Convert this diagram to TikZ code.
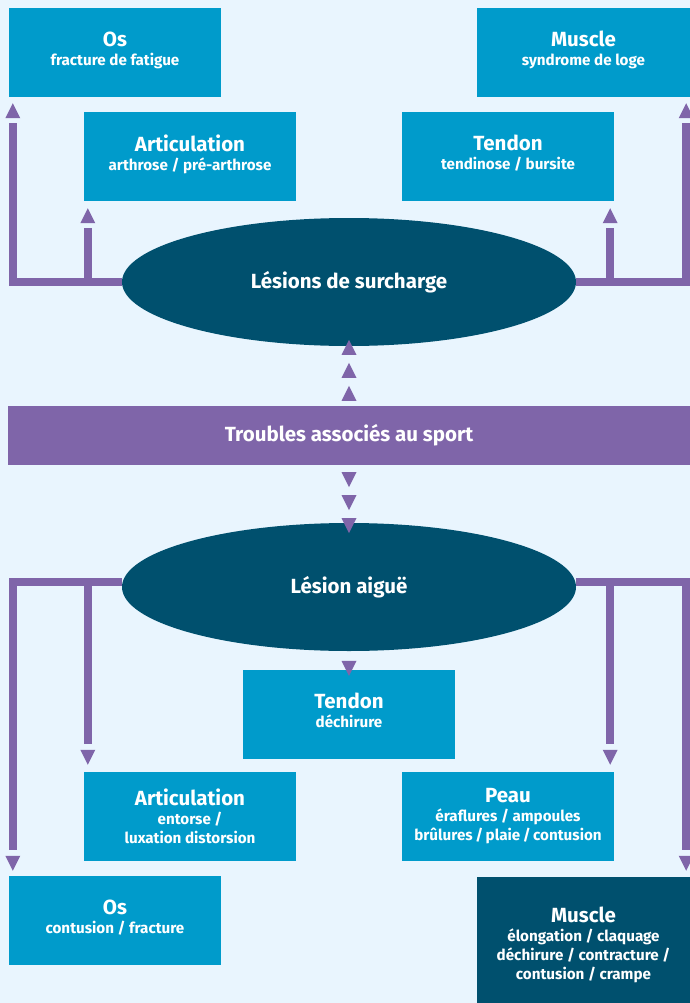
\documentclass[tikz,border=0pt]{standalone}
\usepackage{fontspec}
\setmainfont{Fira Sans}
\usetikzlibrary{shapes.geometric,arrows.meta}
\definecolor{bgc}{HTML}{E9F5FE}
\definecolor{boxblue}{HTML}{009BCB}
\definecolor{darkteal}{HTML}{00506E}
\definecolor{purp}{HTML}{7F65A9}
\newcommand{\ttl}[1]{{\fontsize{20.5}{19}\selectfont\bfseries #1}}
\tikzset{
  box/.style={rectangle, fill=boxblue, text=white, inner sep=0pt, align=center,
    minimum width=212pt, minimum height=89pt, font=\fontsize{15.2}{19}\selectfont\bfseries},
  darkbox/.style={box, fill=darkteal},
  oval/.style={ellipse, fill=darkteal, text=white, inner sep=0pt,
    minimum width=454pt, minimum height=128pt, font=\fontsize{20.5}{24}\selectfont\bfseries},
  bar/.style={rectangle, fill=purp, text=white, inner sep=0pt,
    minimum width=682pt, minimum height=59pt, font=\fontsize{20.5}{24}\selectfont\bfseries},
  link/.style={draw=purp, line width=8pt},
  tipo/.style={draw=purp, line width=8pt, -{Triangle[length=15pt,width=15pt,line width=0pt]}}
}
\begin{document}
\begin{tikzpicture}[x=1pt,y=-1pt]
\fill[bgc] (0,0) rectangle (690,1003);
\useasboundingbox (0,0) rectangle (690,1003);
% top boxes
\node[box] (os1) at (115,52.5) {\ttl{Os}\\fracture de fatigue\\[-11pt]\mbox{}};
\node[box, minimum width=213pt] (mus1) at (583.5,52.5) {\ttl{Muscle}\\syndrome de loge\\[-11pt]\mbox{}};
\node[box] (art1) at (190,156.5) {\ttl{Articulation}\\arthrose / pré-arthrose\\[-11pt]\mbox{}};
\node[box] (ten1) at (508,156.5) {\ttl{Tendon}\\tendinose / bursite\\[-11pt]\mbox{}};
\node[oval] (les1) at (349,282) {Lésions de surcharge};
\node[bar] (bar) at (349,435.5) {Troubles associés au sport};
\node[oval] (les2) at (349,587) {Lésion aiguë};
% bottom boxes
\node[box] (ten2) at (349,714.5) {\ttl{Tendon}\\déchirure\\[-11pt]\mbox{}};
\node[box] (art2) at (190,816.5) {\ttl{Articulation}\\entorse /\\luxation distorsion};
\node[box] (peau) at (508,816.5) {\ttl{Peau}\\éraflures / ampoules\\brûlures\,/\,plaie\,/\,contusion};
\node[box] (os2) at (115,920.5) {\ttl{Os}\\contusion / fracture\\[-11pt]\mbox{}};
\node[darkbox, minimum width=213pt, minimum height=136pt] (mus2) at (583.5,945) {\ttl{Muscle}\\élongation / claquage\\déchirure / contracture /\\contusion / crampe};
% arrow tip points
\coordinate (tOs1) at ([xshift=4pt,yshift=-6pt]os1.south west);
\coordinate (tArt1) at ([xshift=4pt,yshift=-7pt]art1.south west);
\coordinate (tMus1) at ([xshift=-4pt,yshift=-6pt]mus1.south east);
\coordinate (tTen1) at ([xshift=-4pt,yshift=-7pt]ten1.south east);
\coordinate (tOs2) at ([xshift=4pt,yshift=5pt]os2.north west);
\coordinate (tArt2) at ([xshift=4pt,yshift=7pt]art2.north west);
\coordinate (tMus2) at ([xshift=-4pt,yshift=6pt]mus2.north east);
\coordinate (tPeau) at ([xshift=-4pt,yshift=7pt]peau.north east);
\coordinate (hL2) at ([yshift=5pt]les2.west);
\coordinate (hR2) at ([yshift=5pt]les2.east);
% connectors top
\draw[link, shorten >=20pt] (les1.west) -| (tOs1);
\draw[tipo] ([yshift=-15pt]tOs1) -- (tOs1);
\draw[link, shorten >=20pt] (tArt1 |- les1.west) -- (tArt1);
\draw[tipo] ([yshift=-15pt]tArt1) -- (tArt1);
\draw[link, shorten >=20pt] (les1.east) -| (tMus1);
\draw[tipo] ([yshift=-15pt]tMus1) -- (tMus1);
\draw[link, shorten >=20pt] (tTen1 |- les1.east) -- (tTen1);
\draw[tipo] ([yshift=-15pt]tTen1) -- (tTen1);
% triple arrows up
\draw[tipo] ([yshift=51pt]bar.north) -- ([yshift=66pt]bar.north);
\draw[tipo] ([yshift=28pt]bar.north) -- ([yshift=43pt]bar.north);
\draw[tipo] ([yshift=5pt]bar.north) -- ([yshift=20pt]bar.north);
% triple arrows down
\draw[tipo] ([yshift=-7pt]bar.south) -- ([yshift=-22pt]bar.south);
\draw[tipo] ([yshift=-30pt]bar.south) -- ([yshift=-45pt]bar.south);
\draw[tipo] ([yshift=-53pt]bar.south) -- ([yshift=-68pt]bar.south);
% connectors bottom
\draw[link, shorten >=21pt] (hL2) -| (tOs2);
\draw[tipo] ([yshift=15pt]tOs2) -- (tOs2);
\draw[link, shorten >=21pt] (tArt2 |- hL2) -- (tArt2);
\draw[tipo] ([yshift=15pt]tArt2) -- (tArt2);
\draw[link, shorten >=21pt] (hR2) -| (tMus2);
\draw[tipo] ([yshift=15pt]tMus2) -- (tMus2);
\draw[link, shorten >=21pt] (tPeau |- hR2) -- (tPeau);
\draw[tipo] ([yshift=15pt]tPeau) -- (tPeau);
\draw[tipo] ([yshift=-10pt]les2.south) -- ([yshift=-6pt]ten2.north);
\end{tikzpicture}
\end{document}
